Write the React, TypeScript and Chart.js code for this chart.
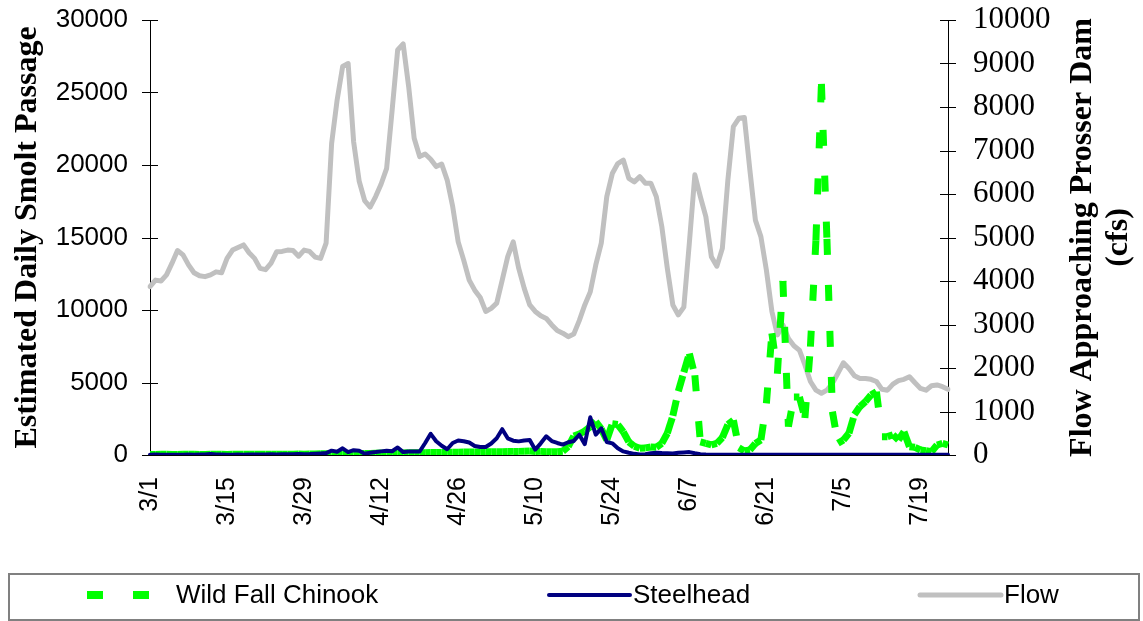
import React, { useEffect, useRef } from 'react';
import { Chart, registerables } from 'chart.js';

Chart.register(...registerables);

// Categories: daily dates 3/1 .. 7/24
const START_MONTH = 3;
const MONTH_LENGTHS = [31, 30, 31, 30, 31]; // Mar, Apr, May, Jun, Jul
const DAY_COUNT = 146;
function buildDates(): string[] {
  const out: string[] = [];
  let m = 0;
  let d = 1;
  for (let i = 0; i < DAY_COUNT; i++) {
    out.push(`${START_MONTH + m}/${d}`);
    d++;
    if (d > MONTH_LENGTHS[m]) { d = 1; m++; }
  }
  return out;
}
const DATES = buildDates();

const TICK_LABELS = ['3/1', '3/15', '3/29', '4/12', '4/26', '5/10', '5/24', '6/7', '6/21', '7/5', '7/19'];

const CHINOOK = [
  40, 40, 50, 50, 40, 40, 50, 50, 50, 40,
  40, 50, 50, 50, 40, 50, 50, 60, 50, 50,
  50, 60, 60, 50, 60, 60, 60, 70, 60, 70,
  70, 80, 80, 90, 80, 90, 100, 90, 100, 110,
  110, 120, 130, 120, 130, 140, 140, 150, 150, 160,
  160, 170, 170, 180, 180, 190, 190, 200, 200, 210,
  210, 220, 220, 230, 230, 240, 250, 250, 260, 270,
  240, 250, 230, 220, 230, 260, 575, 1310, 1450, 1650,
  1950, 2300, 1800, 1035, 2150, 2100, 1600, 900, 600, 460,
  490, 550, 530, 800, 1500, 2700, 4400, 5700, 7000, 5500,
  900, 800, 700, 800, 1200, 2100, 2400, 500, 280, 350,
  800, 1035, 3560, 8400, 5600, 12000, 1950, 4000, 4000, 2550,
  7470, 14800, 25600, 14900, 2990, 805, 1035, 1500, 2800, 3340,
  3680, 4140, 4370, 1265, 1265, 1400, 1035, 1600, 575, 530,
  345, 300, 230, 690, 800, 690,
];

const STEELHEAD = [
  20, 30, 20, 10, 20, 10, 20, 30, 20, 30,
  40, 70, 40, 30, 10, 20, 30, 20, 30, 40,
  30, 40, 50, 40, 50, 60, 50, 70, 60, 70,
  90, 110, 130, 300, 230, 460, 200, 330, 300, 90,
  160, 200, 250, 300, 260, 520, 200, 240, 240, 240,
  830, 1460, 950, 640, 400, 830, 1000, 950, 860, 620,
  550, 550, 790, 1150, 1780, 1150, 990, 940, 1000, 1035,
  370, 805, 1290, 960, 830, 720, 880, 970, 1400, 750,
  2600, 1400, 1840, 900, 805, 460, 250, 160, 80, 30,
  60, 120, 150, 130, 120, 100, 150, 180, 200, 120,
  50, 30, 20, 20, 15, 15, 10, 10, 10, 10,
  10, 10, 10, 10, 10, 10, 10, 10, 10, 10,
  10, 10, 10, 10, 10, 10, 10, 10, 10, 10,
  10, 10, 10, 10, 10, 10, 10, 10, 10, 10,
  10, 10, 10, 10, 10, 10,
];

const FLOW = [
  3870, 4020, 4000, 4140, 4410, 4700, 4600, 4370, 4190, 4120,
  4100, 4140, 4210, 4190, 4520, 4710, 4770, 4830, 4650, 4520,
  4290, 4260, 4410, 4670, 4680, 4710, 4700, 4570, 4710, 4680,
  4550, 4520, 4870, 7160, 8160, 8930, 9000, 7200, 6300, 5850,
  5700, 5940, 6230, 6590, 7930, 9310, 9450, 8470, 7280, 6860,
  6920, 6800, 6630, 6690, 6320, 5710, 4900, 4480, 4020, 3790,
  3620, 3300, 3370, 3490, 4020, 4560, 4900, 4290, 3830, 3450,
  3300, 3200, 3140, 2990, 2860, 2800, 2720, 2780, 3090, 3450,
  3750, 4370, 4870, 5940, 6470, 6700, 6780, 6360, 6280, 6400,
  6250, 6250, 5940, 5250, 4290, 3450, 3220, 3400, 4870, 6440,
  5940, 5480, 4560, 4340, 4750, 6320, 7550, 7740, 7760, 6550,
  5400, 5020, 4250, 3300, 2760, 2990, 2680, 2510, 2410, 2070,
  1690, 1490, 1420, 1490, 1650, 1880, 2120, 1990, 1820, 1760,
  1760, 1740, 1690, 1510, 1490, 1630, 1710, 1740, 1800, 1660,
  1530, 1490, 1590, 1610, 1570, 1510,
];

const LEFT_TITLE = 'Estimated Daily Smolt Passage';
const RIGHT_TITLE = ['Flow Approaching Prosser Dam', '(cfs)'];

const CHINOOK_COLOR = '#00FF00';
const STEELHEAD_COLOR = '#000080';
const FLOW_COLOR = '#C0C0C0';

const crossTicks = {
  id: 'crossTicks',
  afterDraw(chart: any) {
    const ctx = chart.ctx;
    const area = chart.chartArea;
    ctx.save();
    ctx.strokeStyle = '#000';
    ctx.lineWidth = 1;
    for (const id of ['y', 'y1']) {
      const s = chart.scales[id];
      const ax = id === 'y' ? area.left : area.right;
      s.ticks.forEach((_t: any, i: number) => {
        const py = Math.round(s.getPixelForTick(i)) + 0.5;
        ctx.beginPath();
        ctx.moveTo(ax - 8, py);
        ctx.lineTo(ax + 8, py);
        ctx.stroke();
      });
    }
    ctx.restore();
  },
};

const titles = {
  id: 'titles',
  afterDraw(chart: any) {
    const ctx = chart.ctx;
    const area = chart.chartArea;
    const cy = (area.top + area.bottom) / 2;
    ctx.save();
    ctx.fillStyle = '#000';
    ctx.font = 'bold 32px "Liberation Serif"';
    ctx.textAlign = 'center';
    ctx.textBaseline = 'middle';
    const draw = (text: string, x: number) => {
      ctx.save();
      ctx.translate(x, cy);
      ctx.rotate(-Math.PI / 2);
      ctx.fillText(text, 0, 0);
      ctx.restore();
    };
    draw(LEFT_TITLE, 28);
    draw(RIGHT_TITLE[0], 1083);
    draw(RIGHT_TITLE[1], 1119);
    ctx.restore();
  },
};

const boxLegend = {
  id: 'boxLegend',
  afterDraw(chart: any) {
    const ctx = chart.ctx;
    const ds = chart.data.datasets;
    ctx.save();
    ctx.strokeStyle = '#808080';
    ctx.lineWidth = 2;
    ctx.strokeRect(9, 574, 1130, 46);
    const cy = 595;
    ctx.fillStyle = CHINOOK_COLOR;
    ctx.fillRect(87, cy - 4, 16, 8);
    ctx.fillRect(133, cy - 4, 16, 8);
    ctx.strokeStyle = STEELHEAD_COLOR;
    ctx.lineWidth = 4;
    ctx.lineCap = 'round';
    ctx.beginPath();
    ctx.moveTo(549, cy);
    ctx.lineTo(630, cy);
    ctx.stroke();
    ctx.strokeStyle = FLOW_COLOR;
    ctx.lineWidth = 5;
    ctx.beginPath();
    ctx.moveTo(920, cy);
    ctx.lineTo(1001, cy);
    ctx.stroke();
    ctx.fillStyle = '#000';
    ctx.font = '26px "Liberation Sans"';
    ctx.textAlign = 'left';
    ctx.textBaseline = 'middle';
    ctx.fillText(ds[0].label, 176, cy + 1);
    ctx.fillText(ds[1].label, 633, cy + 1);
    ctx.fillText(ds[2].label, 1004, cy + 1);
    ctx.restore();
  },
};

const noPad = (s: any) => {
  s.paddingTop = 0;
  s.paddingBottom = 0;
};

export default function App() {
  const ref = useRef<HTMLCanvasElement | null>(null);

  useEffect(() => {
    if (!ref.current) return;
    const chart = new Chart(ref.current, {
      type: 'line',
      data: {
        labels: DATES,
        datasets: [
          {
            label: 'Wild Fall Chinook',
            data: CHINOOK,
            yAxisID: 'y',
            borderColor: CHINOOK_COLOR,
            borderWidth: 7,
            borderDash: [16, 30],
            borderCapStyle: 'butt',
            borderJoinStyle: 'miter',
            pointRadius: 0,
            tension: 0,
            fill: false,
            order: 1,
            segment: {
              borderDashOffset: (c: any) => (c.p0DataIndex % 2 ? 0.001 : 0),
            },
          } as any,
          {
            label: 'Steelhead',
            data: STEELHEAD,
            yAxisID: 'y',
            borderColor: STEELHEAD_COLOR,
            borderWidth: 4,
            borderJoinStyle: 'round',
            borderCapStyle: 'round',
            pointRadius: 0,
            tension: 0,
            fill: false,
            order: 0,
          },
          {
            label: 'Flow',
            data: FLOW,
            yAxisID: 'y1',
            borderColor: FLOW_COLOR,
            borderWidth: 5,
            borderJoinStyle: 'round',
            borderCapStyle: 'round',
            pointRadius: 0,
            tension: 0,
            fill: false,
            order: 2,
          },
        ],
      },
      options: {
        responsive: false,
        animation: false,
        layout: { padding: { top: 20, left: 0, right: 0, bottom: 0 } },
        plugins: {
          legend: { display: false },
          tooltip: { enabled: false },
        },
        scales: {
          x: {
            type: 'category',
            offset: false,
            grid: { display: false, drawTicks: false },
            border: { display: true, color: '#000', width: 1 },
            ticks: {
              autoSkip: false,
              minRotation: 90,
              maxRotation: 90,
              padding: 22,
              color: '#000',
              font: { family: 'Liberation Sans', size: 25 },
              callback: (_v: any, i: number) => (TICK_LABELS.includes(DATES[i]) ? DATES[i] : null),
            },
            afterFit: (s: any) => { s.height = 166; s.paddingLeft = 0; s.paddingRight = 0; },
          },
          y: {
            position: 'left',
            min: 0,
            max: 30000,
            grid: { display: false, drawTicks: false },
            border: { display: true, color: '#000', width: 1 },
            ticks: {
              stepSize: 5000,
              padding: 22,
              color: '#000',
              font: { family: 'Liberation Sans', size: 26 },
              callback: (v: any) => String(v),
            },
            afterFit: (s: any) => { s.width = 150; noPad(s); },
          },
          y1: {
            position: 'right',
            min: 0,
            max: 10000,
            grid: { display: false, drawTicks: false },
            border: { display: true, color: '#000', width: 1 },
            ticks: {
              stepSize: 1000,
              padding: 25,
              color: '#000',
              font: { family: 'Liberation Serif', size: 31 },
              callback: (v: any) => String(v),
            },
            afterFit: (s: any) => { s.width = 195; noPad(s); },
          },
        },
      },
      plugins: [crossTicks, titles, boxLegend],
    } as any);
    return () => chart.destroy();
  }, []);

  return (
    <div style={{ position: 'absolute', left: 0, top: 0, width: 1143, height: 621, background: '#fff' }}>
      <canvas ref={ref} width={1143} height={621} style={{ display: 'block' }} />
    </div>
  );
}
